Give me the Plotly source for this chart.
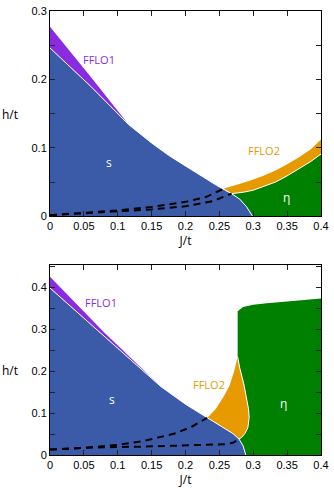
import plotly.graph_objects as go

# ---------------- top panel data ----------------
top_s_J = [0, 0.06, 0.116, 0.15, 0.175, 0.2, 0.225, 0.246, 0.256, 0.268, 0.28, 0.29, 0.299]
top_s_h = [0.246, 0.19, 0.134, 0.107, 0.089, 0.073, 0.058, 0.045, 0.040, 0.033, 0.025, 0.014, 0]
top_f1_J = [0, 0.06, 0.116]
top_f1_h = [0.277, 0.204, 0.134]
top_f2_J = [0.256, 0.28, 0.295, 0.315, 0.333, 0.35, 0.367, 0.385, 0.4]
top_f2_h = [0.040, 0.047, 0.052, 0.059, 0.067, 0.076, 0.086, 0.098, 0.112]
top_eta_J = [0.268, 0.285, 0.3, 0.333, 0.35, 0.367, 0.385, 0.4]
top_eta_h = [0.033, 0.035, 0.038, 0.050, 0.059, 0.069, 0.080, 0.091]
top_d1_J = [0, 0.05, 0.1, 0.15, 0.2, 0.23, 0.256]
top_d1_h = [0.0015, 0.0045, 0.0085, 0.0135, 0.021, 0.028, 0.040]
top_d2_J = [0, 0.05, 0.1, 0.15, 0.2, 0.24, 0.268]
top_d2_h = [0.0015, 0.0043, 0.0075, 0.010, 0.0145, 0.022, 0.033]

# ---------------- bottom panel data ----------------
bot_s_J = [0, 0.04, 0.08, 0.12, 0.163, 0.2, 0.232, 0.255, 0.27, 0.279, 0.285, 0.289]
bot_s_h = [0.398, 0.341, 0.283, 0.226, 0.164, 0.121, 0.0885, 0.066, 0.051, 0.038, 0.022, 0]
bot_f1_J = [0, 0.08, 0.163]
bot_f1_h = [0.425, 0.292, 0.164]
bot_f2L_J = [0.232, 0.245, 0.256, 0.265, 0.272, 0.277]
bot_f2L_h = [0.0885, 0.11, 0.138, 0.165, 0.2, 0.234]
bot_f2R_J = [0.277, 0.280, 0.286, 0.290, 0.293, 0.294, 0.292, 0.288, 0.283, 0.279]
bot_f2R_h = [0.234, 0.208, 0.17, 0.138, 0.11, 0.09, 0.065, 0.052, 0.042, 0.038]
bot_eta_J = [0.277, 0.285, 0.3, 0.32, 0.35, 0.4]
bot_eta_h = [0.343, 0.353, 0.358, 0.362, 0.366, 0.373]
bot_d1_J = [0, 0.05, 0.1, 0.14, 0.186, 0.21, 0.232]
bot_d1_h = [0.013, 0.017, 0.024, 0.034, 0.052, 0.068, 0.0885]
bot_d2_J = [0, 0.065, 0.14, 0.21, 0.258, 0.27, 0.279]
bot_d2_h = [0.013, 0.018, 0.020, 0.0226, 0.0258, 0.029, 0.038]

x_ticks = [0, 0.05, 0.1, 0.15, 0.2, 0.25, 0.3, 0.35, 0.4]
x_labels = ["0", "0.05", "0.1", "0.15", "0.2", "0.25", "0.3", "0.35", "0.4"]
top_y_ticks = [0, 0.05, 0.1, 0.15, 0.2, 0.25, 0.3]
top_y_labels = ["0", "", "0.1", "", "0.2", "", "0.3"]
bot_y_ticks = [0, 0.05, 0.1, 0.15, 0.2, 0.25, 0.3, 0.35, 0.4, 0.45]
bot_y_labels = ["0", "", "0.1", "", "0.2", "", "0.3", "", "0.4", ""]

BLUE = "#3B5BA9"
PURPLE = "#8A2BE2"
ORANGE = "#E69A00"
GREEN = "#008000"

fig = go.Figure()


def poly(xs, ys, color, xa, ya):
    fig.add_trace(go.Scatter(x=xs, y=ys, fill="toself", fillcolor=color, mode="lines",
                             line=dict(width=0, color=color), hoverinfo="skip",
                             xaxis=xa, yaxis=ya, showlegend=False))


def line(xs, ys, color, width, dash, xa, ya):
    fig.add_trace(go.Scatter(x=xs, y=ys, mode="lines", line=dict(width=width, color=color, dash=dash),
                             hoverinfo="skip", xaxis=xa, yaxis=ya, showlegend=False))


def sel(J, h, lo, hi):
    pts = [(a, b) for a, b in zip(J, h) if lo - 1e-9 <= a <= hi + 1e-9]
    return [p[0] for p in pts], [p[1] for p in pts]


# ---- top panel ----
poly([0] + top_s_J, [0] + top_s_h, BLUE, "x", "y")
sj, sh = sel(top_s_J, top_s_h, 0, top_f1_J[-1])
poly(top_f1_J + sj[::-1], top_f1_h + sh[::-1], PURPLE, "x", "y")
sj, sh = sel(top_s_J, top_s_h, top_f2_J[0], top_eta_J[0])
poly(top_f2_J + top_eta_J[::-1] + sj, top_f2_h + top_eta_h[::-1] + sh, ORANGE, "x", "y")
sj, sh = sel(top_s_J, top_s_h, top_eta_J[0], top_s_J[-1])
poly(top_eta_J + [0.4] + sj[::-1], top_eta_h + [0] + sh[::-1], GREEN, "x", "y")
line(top_s_J, top_s_h, "white", 1, "solid", "x", "y")
line(top_eta_J, top_eta_h, "white", 1, "solid", "x", "y")
line(top_d1_J, top_d1_h, "black", 2, "7px,5px", "x", "y")
line(top_d2_J, top_d2_h, "black", 2, "7px,5px", "x", "y")

# ---- bottom panel ----
poly([0] + bot_s_J, [0] + bot_s_h, BLUE, "x2", "y2")
sj, sh = sel(bot_s_J, bot_s_h, 0, bot_f1_J[-1])
poly(bot_f1_J + sj[::-1], bot_f1_h + sh[::-1], PURPLE, "x2", "y2")
sj, sh = sel(bot_s_J, bot_s_h, bot_f2L_J[0], bot_f2R_J[-1])
poly(bot_f2L_J + bot_f2R_J + sj[::-1], bot_f2L_h + bot_f2R_h + sh[::-1], ORANGE, "x2", "y2")
sj, sh = sel(bot_s_J, bot_s_h, bot_f2R_J[-1], bot_s_J[-1])
poly(bot_eta_J + [0.4] + sj[::-1] + bot_f2R_J[::-1],
     bot_eta_h + [0] + sh[::-1] + bot_f2R_h[::-1], GREEN, "x2", "y2")
line(bot_s_J, bot_s_h, "white", 1, "solid", "x2", "y2")
line(bot_f2R_J, bot_f2R_h, "white", 1, "solid", "x2", "y2")
line(bot_d1_J, bot_d1_h, "black", 2, "7px,5px", "x2", "y2")
line(bot_d2_J, bot_d2_h, "black", 2, "7px,5px", "x2", "y2")

LF = "Open Sans, DejaVu Sans, sans-serif"
TICKFONT = dict(family="Liberation Sans, Arial, sans-serif", size=11, color="black")
TITLEFONT = dict(family=LF, size=12, color="black")
axcommon = dict(showline=True, linecolor="black", linewidth=1, mirror="ticks", ticks="inside",
                ticklen=5, tickcolor="#222", tickwidth=1, showgrid=False, zeroline=False,
                tickfont=TICKFONT, ticklabeloverflow="allow")

fig.update_layout(
    width=334, height=492, margin=dict(l=50, r=8, t=5, b=37),
    plot_bgcolor="white", paper_bgcolor="white", showlegend=False,
    xaxis=dict(domain=[0, 1], range=[0, 0.40001], anchor="y", tickvals=x_ticks, ticktext=x_labels,
               title=dict(text="J/t", font=TITLEFONT, standoff=3), **axcommon),
    yaxis=dict(domain=[0.5378, 1], range=[0, 0.30001], anchor="x", tickvals=top_y_ticks,
               ticktext=top_y_labels, **axcommon),
    xaxis2=dict(domain=[0, 1], range=[0, 0.40001], anchor="y2", tickvals=x_ticks, ticktext=x_labels,
                title=dict(text="J/t", font=TITLEFONT, standoff=0), **axcommon),
    yaxis2=dict(domain=[0, 0.4289], range=[0, 0.454], anchor="x2", tickvals=bot_y_ticks,
                ticktext=bot_y_labels, **axcommon),
)

anns = [
    dict(x=0.0725, y=0.229, xref="x", yref="y", text="FFLO1", font=dict(color=PURPLE, size=11, family=LF)),
    dict(x=0.087, y=0.078, xref="x", yref="y", text="s", font=dict(color="white", size=12, family=LF)),
    dict(x=0.316, y=0.0955, xref="x", yref="y", text="FFLO2", font=dict(color=ORANGE, size=11, family=LF)),
    dict(x=0.349, y=0.028, xref="x", yref="y", text="η", font=dict(color="white", size=12, family=LF)),
    dict(x=0.075, y=0.364, xref="x2", yref="y2", text="FFLO1", font=dict(color=PURPLE, size=11, family=LF)),
    dict(x=0.091, y=0.132, xref="x2", yref="y2", text="s", font=dict(color="white", size=12, family=LF)),
    dict(x=0.235, y=0.167, xref="x2", yref="y2", text="FFLO2", font=dict(color=ORANGE, size=11, family=LF)),
    dict(x=0.345, y=0.1235, xref="x2", yref="y2", text="η", font=dict(color="white", size=12, family=LF)),
    dict(x=(9 - 50) / 276, y=(455 - 110) / 450, xref="paper", yref="paper", text="h/t", font=TITLEFONT),
    dict(x=(9 - 50) / 276, y=(455 - 369) / 450, xref="paper", yref="paper", text="h/t", font=TITLEFONT),
]
for a in anns:
    a.update(showarrow=False, xanchor="center", yanchor="middle")
fig.update_layout(annotations=anns)

fig.write_html("out.html", config={"displayModeBar": False},
               post_script="document.body.style.margin='0px';document.body.style.padding='0px';")
